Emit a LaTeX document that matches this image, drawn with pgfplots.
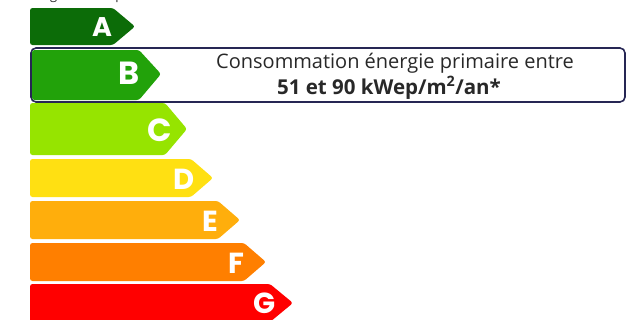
\documentclass[border=0pt]{standalone}
\usepackage{fontspec}
\setmainfont{Open Sans}
\newfontfamily\letterfont{Poppins}
\usepackage{pgfplots}
\pgfplotsset{compat=1.18}
\definecolor{cA}{RGB}{12,108,8}
\definecolor{cB}{RGB}{34,162,10}
\definecolor{cC}{RGB}{150,228,0}
\definecolor{cD}{RGB}{255,224,18}
\definecolor{cE}{RGB}{255,174,12}
\definecolor{cF}{RGB}{255,127,0}
\definecolor{cG}{RGB}{255,0,0}
\definecolor{frame}{RGB}{38,38,84}
\definecolor{txt}{RGB}{40,40,40}
\begin{document}
\begin{tikzpicture}
\useasboundingbox (0,0) rectangle (627pt,-320pt);
\clip (0,0) rectangle (627pt,-320pt);
\begin{axis}[
  at={(0pt,0pt)}, anchor=north west,
  scale only axis, width=627pt, height=320pt,
  xmin=0, xmax=627, ymin=0, ymax=320, y dir=reverse,
  hide axis, clip=false,
]
% highlight frame around class B
\addplot[draw=frame, line width=1.6pt, fill=none, rounded corners=5pt] coordinates {(31,48) (625,48) (625,102) (31,102)} -- cycle;
% arrows: left, top, bottom, body end, tip
\addplot[fill=cA, draw=none, rounded corners=2.5pt] coordinates {(30,8) (113,8) (135,26.5) (113,45) (30,45)} -- cycle;
\addplot[fill=cB, draw=none, rounded corners=2.5pt] coordinates {(32,50) (139,50) (161,74) (139,100) (32,100)} -- cycle;
\addplot[fill=cC, draw=none, rounded corners=2.5pt] coordinates {(30,103) (165,103) (187,129) (165,155) (30,155)} -- cycle;
\addplot[fill=cD, draw=none, rounded corners=2.5pt] coordinates {(30,159) (191,159) (213,178) (191,197) (30,197)} -- cycle;
\addplot[fill=cE, draw=none, rounded corners=2.5pt] coordinates {(30,201) (218,201) (240,220) (218,239) (30,239)} -- cycle;
\addplot[fill=cF, draw=none, rounded corners=2.5pt] coordinates {(30,243) (244,243) (266,262) (244,281) (30,281)} -- cycle;
\addplot[fill=cG, draw=none, rounded corners=2.5pt] coordinates {(30,284) (270,284) (293,303) (270,322) (30,322)} -- cycle;
% letters
\node[inner sep=0pt, text=white, font=\letterfont\bfseries\fontsize{27}{27}\selectfont] at (axis cs:102,27.5) {A};
\node[inner sep=0pt, text=white, font=\letterfont\bfseries\fontsize{32}{32}\selectfont] at (axis cs:129,73) {B};
\node[inner sep=0pt, text=white, font=\letterfont\bfseries\fontsize{32}{32}\selectfont] at (axis cs:160,130) {C};
\node[inner sep=0pt, text=white, font=\letterfont\bfseries\fontsize{29}{29}\selectfont] at (axis cs:184,179) {D};
\node[inner sep=0pt, text=white, font=\letterfont\bfseries\fontsize{29}{29}\selectfont] at (axis cs:210,221) {E};
\node[inner sep=0pt, text=white, font=\letterfont\bfseries\fontsize{29}{29}\selectfont] at (axis cs:236,263) {F};
\node[inner sep=0pt, text=white, font=\letterfont\bfseries\fontsize{29}{29}\selectfont] at (axis cs:265,303) {G};
% description
\node[text=txt, font=\fontsize{20}{20}\selectfont] at (axis cs:395,63) {Consommation énergie primaire entre};
\node[text=txt, font=\bfseries\fontsize{20.5}{20.5}\selectfont] at (axis cs:389,88) {51 et 90 kWep/m\textsuperscript{2}/an*};
% cropped top caption
\node[text=txt, anchor=base west, inner sep=0pt, font=\fontsize{13}{13}\selectfont] at (axis cs:30,-0.5) {Diagnostic de performance};
\end{axis}
\end{tikzpicture}
\end{document}
